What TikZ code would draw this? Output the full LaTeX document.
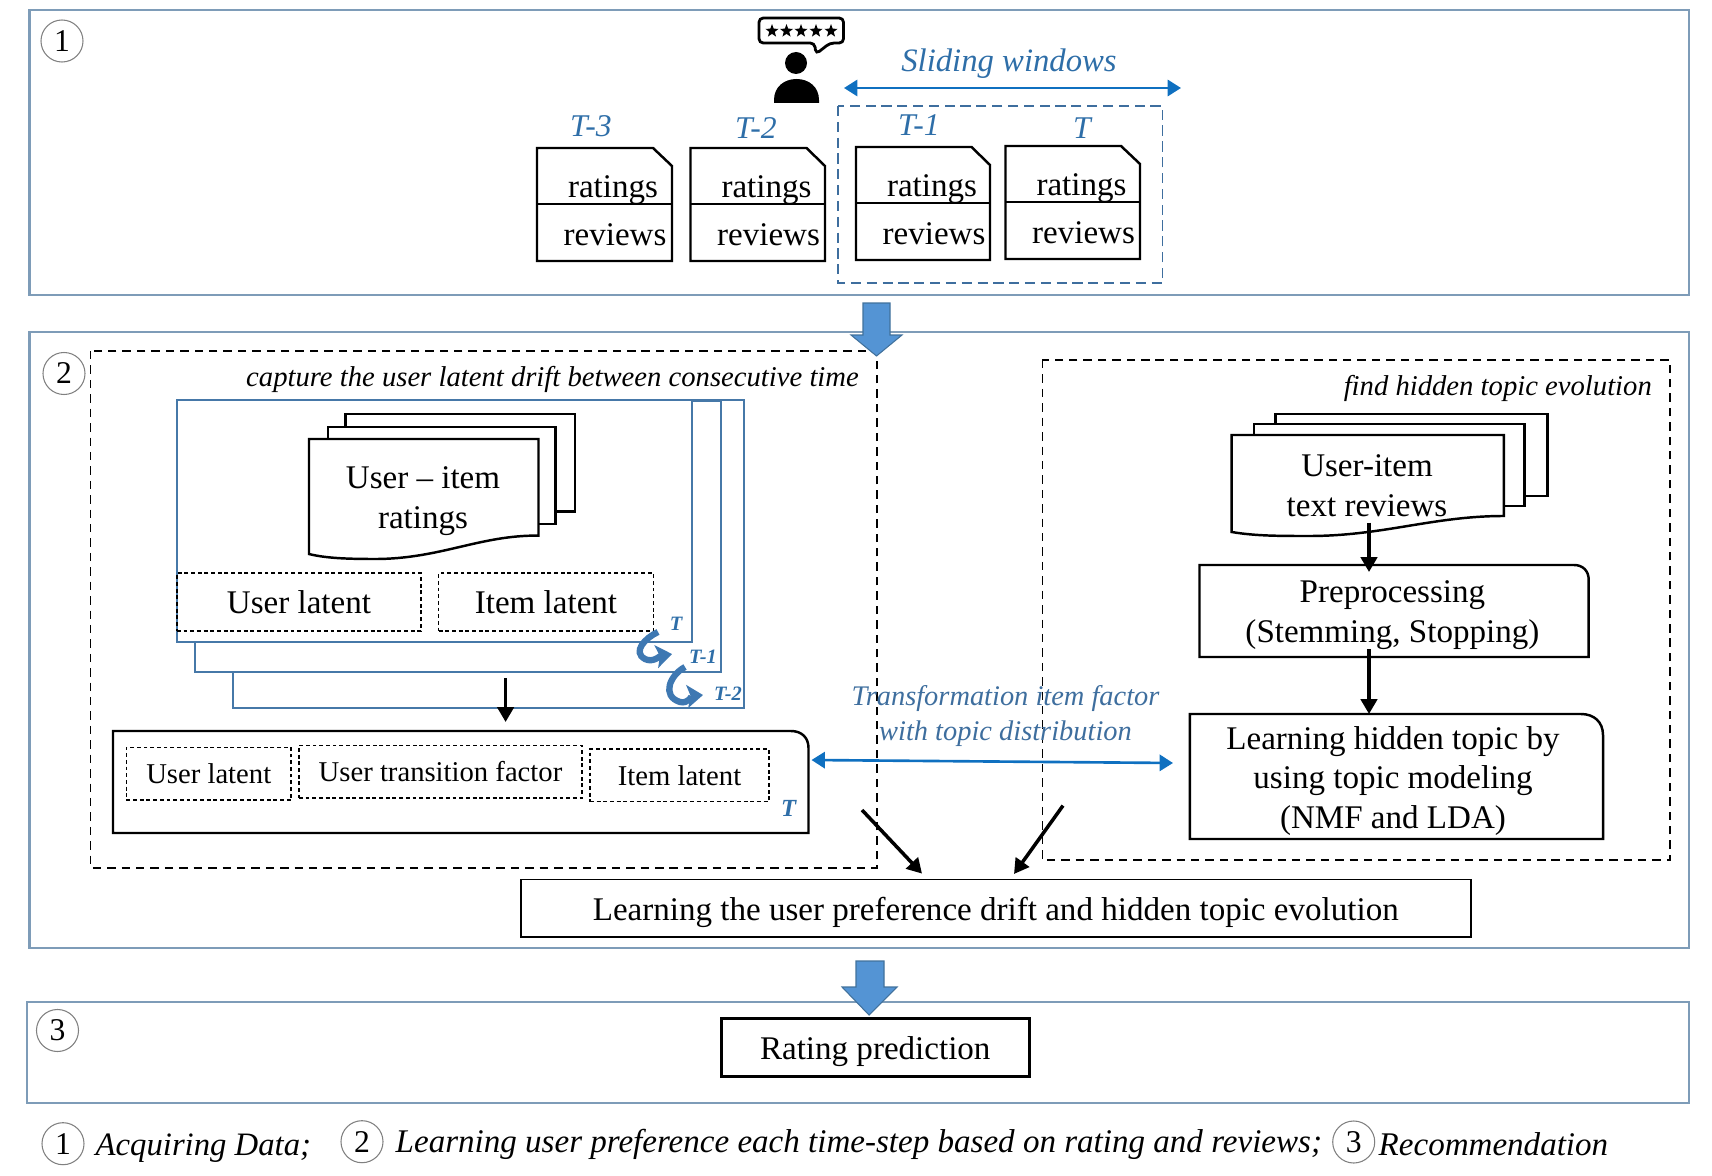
\documentclass[tikz,border=0pt]{standalone}
\usepackage{fontspec}
\setmainfont{Liberation Serif}
\usetikzlibrary{arrows.meta,shapes.geometric}
\definecolor{panelcol}{RGB}{126,156,184}
\definecolor{framecol}{RGB}{70,120,168}
\definecolor{wincol}{RGB}{62,110,158}
\definecolor{slidecol}{RGB}{15,112,192}
\definecolor{labelcol}{RGB}{46,110,168}
\definecolor{curlcol}{RGB}{62,120,178}
\definecolor{bigfill}{RGB}{84,148,212}
\definecolor{bigline}{RGB}{65,113,156}
\newcommand{\fs}[1]{\fontsize{#1}{11.3}\selectfont}
\tikzset{
	panel/.style={draw=panelcol,line width=0.6pt},
	frame/.style={draw=framecol,fill=white,line width=0.6pt},
	doc/.style={draw=black,fill=white,line width=0.7pt},
	numcirc/.style={circle,draw=black!50,line width=0.3pt,inner sep=0pt,minimum size=0.42cm,font=\fs{9}},
	txtbox/.style={rectangle,draw=black,fill=white,line width=0.7pt,inner sep=0pt,align=center,font=\fs{9.4},text height=8pt,text depth=1pt},
	dotbox/.style={rectangle,draw=black,line width=0.45pt,dash pattern=on 1.1pt off 0.8pt,inner sep=0pt,font=\fs{9.4}},
	smalldotbox/.style={dotbox,font=\fs{8.15}},
	dashwin/.style={draw=black,line width=0.4pt,dash pattern=on 2.4pt off 1.7pt},
	blacktip/.style={-{Triangle[length=4.2pt,width=4.6pt]},line width=1pt,color=black},
	bluetwo/.style={{Triangle[length=3.8pt,width=4.6pt]}-{Triangle[length=3.8pt,width=4.6pt]},line width=0.75pt,color=slidecol},
	curlarrow/.style={-{Stealth[length=4.5pt,width=6.5pt,inset=1pt]},line width=1.8pt,color=curlcol},
	bigarrow/.style={draw=bigline,fill=bigfill,line width=0.3pt},
	stlabel/.style={color=labelcol,font=\fs{9}\itshape},
	frlabel/.style={color=labelcol,font=\fs{5.8}\bfseries\itshape},
	capt/.style={inner sep=0pt,font=\fs{8.15}\itshape},
	legend/.style={inner sep=0pt,anchor=west,font=\fs{9.4}\itshape},
	starmark/.style={star,star points=5,star point ratio=2.4,fill=black,inner sep=0pt,minimum size=0.138cm}
}
\begin{document}
\begin{tikzpicture}[x=0.01cm,y=-0.01cm]
	\useasboundingbox (0,0) rectangle (1712,1176);
	% panels
	\draw [panel] (29.5,10) rectangle (1689,295);
	\draw [panel] (29.5,332) rectangle (1689,948);
	\draw [panel] (27,1002) rectangle (1689,1103);

	\node (C1) [numcirc] at (62,41) {1};
	\node (C2) [numcirc] at (64,373.5) {2};
	\node (C3) [numcirc] at (57.5,1030.5) {3};

	% user with rating bubble
	\draw [fill=white,line width=0.8pt,rounded corners=1.2pt] (759,18)--(843.5,18)--(843.5,43)--(830,43)--(816,54)--(814.5,43)--(759,43)--cycle;
	\node (S1) [starmark] at (772,31) {};
	\node (S2) [starmark] at (786.5,31) {};
	\node (S3) [starmark] at (801,31) {};
	\node (S4) [starmark] at (816,31) {};
	\node (S5) [starmark] at (831,31) {};
	\fill (796,63) ellipse (11 and 11);
	\fill (774,103) -- (774,100) .. controls (774,87) and (784,79) .. (796.5,79) .. controls (809,79) and (819,87) .. (819,100) -- (819,103) -- cycle;

	% sliding window
	\node (W) [color=labelcol,font=\fs{9.3}\itshape] at (1009,64) {Sliding windows};
	\coordinate (Wa) at (844,88);
	\coordinate (Wb) at (1181,88);
	\draw [bluetwo] (Wa)--(Wb);
	\draw [dashwin,draw=wincol,line width=0.55pt,dash pattern=on 2.9pt off 1.6pt] (838,106) rectangle (1162.5,283);

	\node (L3) [stlabel] at (591,126) {T-3};
	\node (L2) [stlabel] at (756,128) {T-2};
	\node (L1) [stlabel] at (919,125) {T-1};
	\node (L0) [stlabel] at (1082,128) {T};

	\draw [doc] (537,148)--(653,148)--(672,166)--(672,261)--(537,261)--cycle;
	\draw [doc] (690.5,148)--(806.5,148)--(825,166)--(825,261)--(690.5,261)--cycle;
	\draw [doc] (856,147)--(971.5,147)--(990,165)--(990,260)--(856,260)--cycle;
	\draw [doc] (1005.5,146)--(1121,146)--(1140,164)--(1140,259)--(1005.5,259)--cycle;
	\draw [line width=0.4pt] (537,204)--(672,204);
	\draw [line width=0.4pt] (690.5,204)--(825,204);
	\draw [line width=0.4pt] (856,203)--(990,203);
	\draw [line width=0.4pt] (1005.5,202)--(1140,202);
	\node (R3) [font=\fs{9.4}] at (613,190) {ratings};
	\node (R2) [font=\fs{9.4}] at (766.5,190) {ratings};
	\node (R1) [font=\fs{9.4}] at (932,189) {ratings};
	\node (R0) [font=\fs{9.4}] at (1081.5,188) {ratings};
	\node (V3) [font=\fs{9.4}] at (615,235) {reviews};
	\node (V2) [font=\fs{9.4}] at (768.5,235) {reviews};
	\node (V1) [font=\fs{9.4}] at (934,234) {reviews};
	\node (V0) [font=\fs{9.4}] at (1083.5,233) {reviews};

	% left block
	\draw [dashwin] (90.7,351) rectangle (877,868);
	\node (CA) [capt,anchor=east] at (859.5,379) {capture the user latent drift between consecutive time};

	\draw [frame] (233,400) rectangle (744,708);
	\draw [frame] (195,401) rectangle (721,672);
	\draw [frame] (177,399.6) rectangle (692,642);

	\draw [doc] (345.6,414) rectangle (575,511.5);
	\draw [doc] (328,427) rectangle (555.5,524);
	\draw [doc] (309,439)--(538.5,439)--(538.5,535.6) .. controls (480,535) and (440,559) .. (375,559) .. controls (345,559) and (325,558) .. (309,554) -- cycle;
	\node (UI) [align=center,font=\fs{9.4}] at (423,501) {User -- item\\ratings};

	\node (UL) [dotbox,minimum width=2.44cm,minimum height=0.575cm] at (299,602) {User latent};
	\node (IL) [dotbox,minimum width=2.145cm,minimum height=0.575cm] at (546,602) {Item latent};

	\node (F0) [frlabel] at (676,624) {T};
	\node (F1) [frlabel] at (703,657) {T-1};
	\node (F2) [frlabel] at (728,694) {T-2};
	\draw [curlarrow] (658,632) .. controls (645,638) and (632,652) .. (645,659) .. controls (653,663) and (660,656) .. (672,654);
	\draw [curlarrow] (685,667) .. controls (670,675) and (661,696) .. (680,702) .. controls (688,704) and (692,696) .. (703,695);

	\draw [doc] (113,731)--(791,731) .. controls (802,731) and (808.5,738) .. (808.5,748)--(808.5,833)--(113,833)--cycle;
	\node (U2) [smalldotbox,minimum width=1.645cm,minimum height=0.525cm] at (208.75,773.7) {User latent};
	\node (U3) [smalldotbox,minimum width=2.83cm,minimum height=0.525cm] at (440.5,771.8) {User transition factor};
	\node (I2) [smalldotbox,minimum width=1.79cm,minimum height=0.525cm] at (679.5,775.3) {Item latent};
	\node (F3) [stlabel,font=\fs{7}\bfseries\itshape] at (788.7,808) {T};

	\coordinate (Da) at (505.6,678);
	\coordinate (Db) at (505.6,722);
	\draw [blacktip] (Da)--(Db);

	% right block
	\draw [dashwin] (1042.2,360) rectangle (1670,860);
	\node (CB) [capt,anchor=east] at (1652.5,388) {find hidden topic evolution};

	\draw [doc] (1275.3,414) rectangle (1547.4,496);
	\draw [doc] (1254,424) rectangle (1524.5,506);
	\draw [doc] (1231.7,435)--(1503.8,435)--(1503.8,516) .. controls (1433,516) and (1383,536) .. (1309,536) .. controls (1280,536) and (1255,536) .. (1231.7,532) -- cycle;
	\node (UT) [align=center,font=\fs{9.4}] at (1367,485.5) {User-item\\text reviews};

	\draw [doc] (1199.5,565)--(1574,565) .. controls (1583,565) and (1588.7,571) .. (1588.7,580)--(1588.7,657)--(1199.5,657)--cycle;
	\node (PP) [align=center,font=\fs{9.4}] at (1392.4,615) {Preprocessing\\(Stemming, Stopping)};

	\draw [doc] (1189.8,714)--(1581,714) .. controls (1594,714) and (1603,722) .. (1603,735)--(1603,839)--(1189.8,839)--cycle;
	\node (LH) [align=center,font=\fs{9.4}] at (1393,781) {Learning hidden topic by\\using topic modeling\\(NMF and LDA)};

	\coordinate (Pa) at (1369,522.6);
	\coordinate (Pb) at (1369,572);
	\coordinate (Qa) at (1369,649);
	\coordinate (Qb) at (1369,714);
	\draw [blacktip] (Pa)--(Pb);
	\draw [blacktip] (Qa)--(Qb);

	% between the blocks
	\node (TF) [align=center,color=wincol,font=\fontsize{8.08}{9.7}\selectfont\itshape] at (1005.5,716) {Transformation item factor\\with topic distribution};
	\coordinate (Ta) at (811.5,760);
	\coordinate (Tb) at (1173,763);
	\draw [bluetwo] (Ta)--(Tb);

	\node (LD) [txtbox,line width=0.5pt,minimum width=9.495cm,minimum height=0.575cm] at (995.75,908.25) {Learning the user preference drift and hidden topic evolution};
	\coordinate (Ka) at (862,810);
	\coordinate (Kb) at (922,873.6);
	\coordinate (Ma) at (1063,805.6);
	\coordinate (Mb) at (1014,874);
	\draw [blacktip] (Ka)--(Kb);
	\draw [blacktip] (Ma)--(Mb);

	% big arrows
	\draw [bigarrow] (863,303)--(890,303)--(890,335)--(902,335)--(876.5,356)--(851,335)--(863,335)--cycle;
	\draw [bigarrow] (856,961)--(884,961)--(884,987)--(897,987)--(869,1015)--(842,987)--(856,987)--cycle;

	\node (RP) [txtbox,line width=0.8pt,minimum width=3.08cm,minimum height=0.58cm] at (875.25,1047.5) {Rating prediction};

	% legend line
	\node (N1) [numcirc] at (63,1143.7) {1};
	\node (N2) [numcirc] at (362,1141.7) {2};
	\node (N3) [numcirc] at (1353.7,1142) {3};
	\node (A1) [legend,font=\fs{9.3}\itshape] at (95,1148) {Acquiring Data;};
	\node (A2) [legend] at (395,1144) {Learning user preference each time-step based on rating and reviews;};
	\node (A3) [legend] at (1378,1144) {Recommendation};
\end{tikzpicture}
\end{document}
